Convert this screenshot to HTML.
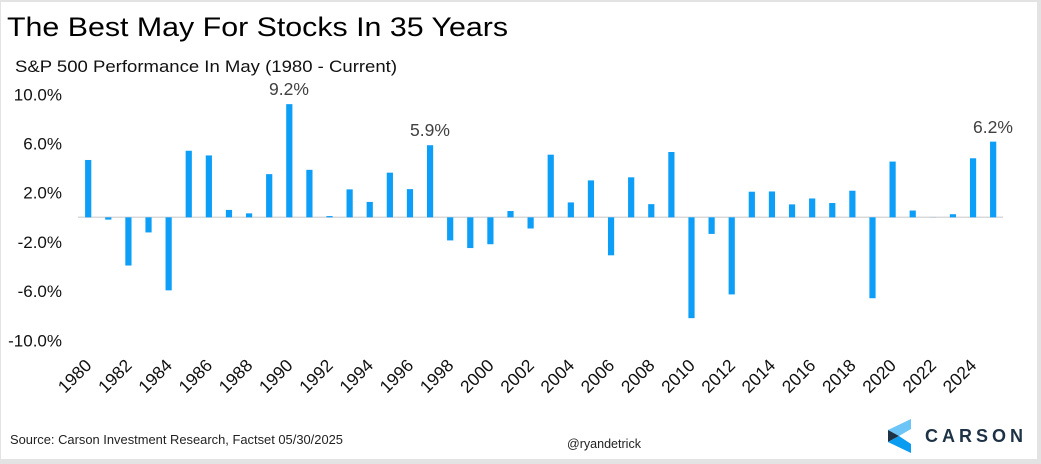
<!DOCTYPE html>
<html>
<head>
<meta charset="utf-8">
<style>
html,body{margin:0;padding:0;background:#fff;}
svg{display:block;}
text{font-family:"Liberation Sans",Arial,sans-serif;}
</style>
</head>
<body>
<svg width="1041" height="464" viewBox="0 0 1041 464" xmlns="http://www.w3.org/2000/svg">
<rect x="0" y="0" width="1041" height="464" fill="#e3e3e3"/>
<rect x="1" y="2" width="1036" height="457" fill="#ffffff"/>

<text x="7" y="36" font-size="27" fill="#000" textLength="501" lengthAdjust="spacingAndGlyphs">The Best May For Stocks In 35 Years</text>
<text x="15" y="72" font-size="16.5" fill="#111" textLength="382" lengthAdjust="spacingAndGlyphs">S&amp;P 500 Performance In May (1980 - Current)</text>

<g font-size="17" fill="#111" text-anchor="end">
<text x="62" y="100.3">10.0%</text>
<text x="62" y="149.5">6.0%</text>
<text x="62" y="198.7">2.0%</text>
<text x="62" y="247.9">-2.0%</text>
<text x="62" y="297.1">-6.0%</text>
<text x="62" y="346.3">-10.0%</text>
</g>

<line x1="78" y1="217.3" x2="1003" y2="217.3" stroke="#d9d9d9" stroke-width="1.5"/>

<g fill="#0d9ef7">
<rect x="85.10" y="159.98" width="6.2" height="57.32"/>
<rect x="105.21" y="217.3" width="6.2" height="2.34"/>
<rect x="125.32" y="217.3" width="6.2" height="48.22"/>
<rect x="145.43" y="217.3" width="6.2" height="15.13"/>
<rect x="165.54" y="217.3" width="6.2" height="73.06"/>
<rect x="185.65" y="150.76" width="6.2" height="66.54"/>
<rect x="205.76" y="155.43" width="6.2" height="61.87"/>
<rect x="225.87" y="209.92" width="6.2" height="7.38"/>
<rect x="245.98" y="213.36" width="6.2" height="3.94"/>
<rect x="266.09" y="174.13" width="6.2" height="43.17"/>
<rect x="286.20" y="104.14" width="6.2" height="113.16"/>
<rect x="306.31" y="169.82" width="6.2" height="47.48"/>
<rect x="326.42" y="216.07" width="6.2" height="1.23"/>
<rect x="346.53" y="189.38" width="6.2" height="27.92"/>
<rect x="366.64" y="201.92" width="6.2" height="15.38"/>
<rect x="386.75" y="172.65" width="6.2" height="44.65"/>
<rect x="406.86" y="189.13" width="6.2" height="28.17"/>
<rect x="426.97" y="145.22" width="6.2" height="72.08"/>
<rect x="447.08" y="217.3" width="6.2" height="23.12"/>
<rect x="467.19" y="217.3" width="6.2" height="30.75"/>
<rect x="487.30" y="217.3" width="6.2" height="26.94"/>
<rect x="507.41" y="211.03" width="6.2" height="6.27"/>
<rect x="527.52" y="217.3" width="6.2" height="11.19"/>
<rect x="547.63" y="154.69" width="6.2" height="62.61"/>
<rect x="567.74" y="202.42" width="6.2" height="14.88"/>
<rect x="587.85" y="180.40" width="6.2" height="36.90"/>
<rect x="607.96" y="217.3" width="6.2" height="38.01"/>
<rect x="628.07" y="177.32" width="6.2" height="39.98"/>
<rect x="648.18" y="204.14" width="6.2" height="13.16"/>
<rect x="668.29" y="151.99" width="6.2" height="65.31"/>
<rect x="688.40" y="217.3" width="6.2" height="100.86"/>
<rect x="708.51" y="217.3" width="6.2" height="16.61"/>
<rect x="728.62" y="217.3" width="6.2" height="77.12"/>
<rect x="748.73" y="191.72" width="6.2" height="25.58"/>
<rect x="768.84" y="191.47" width="6.2" height="25.83"/>
<rect x="788.95" y="204.38" width="6.2" height="12.92"/>
<rect x="809.06" y="198.48" width="6.2" height="18.82"/>
<rect x="829.17" y="203.03" width="6.2" height="14.27"/>
<rect x="849.28" y="190.73" width="6.2" height="26.57"/>
<rect x="869.39" y="217.3" width="6.2" height="80.93"/>
<rect x="889.50" y="161.58" width="6.2" height="55.72"/>
<rect x="909.61" y="210.53" width="6.2" height="6.77"/>
<rect x="929.72" y="217.18" width="6.2" height="0.12"/>
<rect x="949.83" y="214.22" width="6.2" height="3.08"/>
<rect x="969.94" y="158.26" width="6.2" height="59.04"/>
<rect x="990.05" y="141.65" width="6.2" height="75.65"/>
</g>

<g font-size="17.5" fill="#404040" text-anchor="middle">
<text x="289" y="95">9.2%</text>
<text x="430" y="136">5.9%</text>
<text x="993" y="133">6.2%</text>
</g>

<g font-size="17.5" fill="#111" text-anchor="end">
<text x="92.70" y="366.5" transform="rotate(-45 92.70 366.5)">1980</text>
<text x="132.92" y="366.5" transform="rotate(-45 132.92 366.5)">1982</text>
<text x="173.14" y="366.5" transform="rotate(-45 173.14 366.5)">1984</text>
<text x="213.36" y="366.5" transform="rotate(-45 213.36 366.5)">1986</text>
<text x="253.58" y="366.5" transform="rotate(-45 253.58 366.5)">1988</text>
<text x="293.80" y="366.5" transform="rotate(-45 293.80 366.5)">1990</text>
<text x="334.02" y="366.5" transform="rotate(-45 334.02 366.5)">1992</text>
<text x="374.24" y="366.5" transform="rotate(-45 374.24 366.5)">1994</text>
<text x="414.46" y="366.5" transform="rotate(-45 414.46 366.5)">1996</text>
<text x="454.68" y="366.5" transform="rotate(-45 454.68 366.5)">1998</text>
<text x="494.90" y="366.5" transform="rotate(-45 494.90 366.5)">2000</text>
<text x="535.12" y="366.5" transform="rotate(-45 535.12 366.5)">2002</text>
<text x="575.34" y="366.5" transform="rotate(-45 575.34 366.5)">2004</text>
<text x="615.56" y="366.5" transform="rotate(-45 615.56 366.5)">2006</text>
<text x="655.78" y="366.5" transform="rotate(-45 655.78 366.5)">2008</text>
<text x="696.00" y="366.5" transform="rotate(-45 696.00 366.5)">2010</text>
<text x="736.22" y="366.5" transform="rotate(-45 736.22 366.5)">2012</text>
<text x="776.44" y="366.5" transform="rotate(-45 776.44 366.5)">2014</text>
<text x="816.66" y="366.5" transform="rotate(-45 816.66 366.5)">2016</text>
<text x="856.88" y="366.5" transform="rotate(-45 856.88 366.5)">2018</text>
<text x="897.10" y="366.5" transform="rotate(-45 897.10 366.5)">2020</text>
<text x="937.32" y="366.5" transform="rotate(-45 937.32 366.5)">2022</text>
<text x="977.54" y="366.5" transform="rotate(-45 977.54 366.5)">2024</text>
</g>

<text x="10" y="444" font-size="13" fill="#222" textLength="333" lengthAdjust="spacingAndGlyphs">Source: Carson Investment Research, Factset 05/30/2025</text>
<text x="567" y="448" font-size="12.5" fill="#222" textLength="74" lengthAdjust="spacingAndGlyphs">@ryandetrick</text>

<polygon points="888,430 911,419 911,429 899,436" fill="#6cc4f7"/>
<polygon points="888,430 899,436 888,442" fill="#1e3246"/>
<polygon points="888,442 899,436 911,444 911,453" fill="#0a9cf0"/>
<text x="925" y="442" font-size="18" font-weight="bold" fill="#1e3246" textLength="98" lengthAdjust="spacing">CARSON</text>
</svg>
</body>
</html>
